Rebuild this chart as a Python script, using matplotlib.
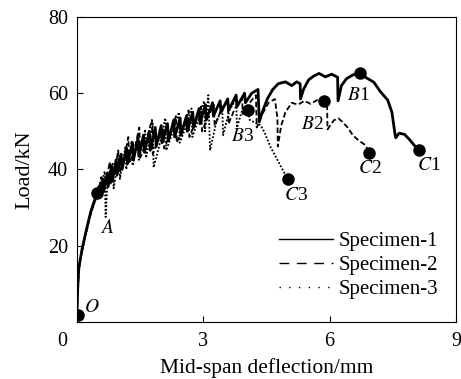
import matplotlib
matplotlib.use("Agg")
import matplotlib.pyplot as plt
from matplotlib.transforms import blended_transform_factory

plt.rcParams['font.family'] = ['Liberation Serif', 'DejaVu Serif']
plt.rcParams['mathtext.fontset'] = 'stix'

# ---- data (deflection in mm, load in kN) ----
s1_x = [0.00, 0.01, 0.04, 0.12, 0.22, 0.33, 0.45, 0.52, 0.56, 0.62, 0.64, 0.72, 0.74,
        0.82, 0.84, 0.93, 0.95, 1.05, 1.07, 1.18, 1.20, 1.32, 1.34, 1.45, 1.47, 1.58,
        1.60, 1.72, 1.74, 1.86, 1.88, 2.00, 2.02, 2.15, 2.17, 2.30, 2.32, 2.45, 2.47,
        2.60, 2.62, 2.75, 2.77, 2.90, 2.92, 3.05, 3.07, 3.22, 3.24, 3.40, 3.42, 3.58,
        3.60, 3.78, 3.80, 3.98, 4.00, 4.15, 4.30, 4.33, 4.40, 4.52, 4.65, 4.78, 4.95,
        5.10, 5.22, 5.30, 5.31, 5.38, 5.50, 5.62, 5.75, 5.90, 6.05, 6.19, 6.20, 6.28,
        6.40, 6.55, 6.71, 6.88, 7.05, 7.20, 7.38, 7.48, 7.55, 7.57, 7.65, 7.78, 7.90,
        8.02, 8.12]
s1_y = [2.0, 7.0, 14.0, 19.0, 24.0, 29.0, 33.0, 35.5, 33.5, 37.5, 34.5, 39.0, 35.5,
        41.0, 37.0, 42.5, 38.5, 44.0, 40.0, 45.5, 41.5, 47.0, 42.5, 48.0, 43.5, 49.0,
        44.5, 50.0, 45.0, 51.0, 46.0, 51.5, 47.0, 52.0, 47.5, 53.0, 48.5, 53.5, 49.0,
        54.0, 50.0, 55.0, 51.0, 56.0, 52.0, 57.0, 53.0, 57.5, 54.0, 58.0, 55.0, 58.5,
        55.5, 59.5, 56.5, 60.0, 57.5, 60.0, 61.0, 52.5, 55.0, 58.5, 61.0, 62.5, 63.0,
        62.0, 63.0, 62.5, 58.5, 61.0, 63.5, 64.5, 65.2, 64.3, 65.0, 64.2, 58.0, 62.0,
        63.8, 64.8, 65.3, 64.0, 62.9, 60.5, 58.2, 55.0, 49.5, 48.3, 49.5, 49.2, 47.8,
        46.2, 45.0]

s2_x = [0.00, 0.02, 0.06, 0.16, 0.28, 0.40, 0.50, 0.58, 0.60, 0.68, 0.78, 0.80, 0.90,
        0.98, 1.00, 1.10, 1.22, 1.24, 1.36, 1.48, 1.50, 1.62, 1.78, 1.80, 1.92, 2.05,
        2.07, 2.20, 2.35, 2.37, 2.50, 2.65, 2.67, 2.80, 2.95, 2.97, 3.10, 3.25, 3.27,
        3.42, 3.58, 3.60, 3.75, 3.92, 3.94, 4.10, 4.25, 4.27, 4.40, 4.55, 4.70, 4.76,
        4.77, 4.85, 4.95, 5.10, 5.25, 5.40, 5.55, 5.70, 5.86, 5.94, 5.95, 6.02, 6.10,
        6.21, 6.31, 6.43, 6.55, 6.69, 6.86, 6.93]
s2_y = [2.0, 9.0, 15.0, 21.0, 26.5, 31.0, 34.0, 38.0, 33.0, 36.5, 42.0, 36.0, 40.0,
        45.0, 39.0, 42.0, 48.5, 41.5, 45.0, 51.0, 43.0, 46.5, 53.0, 44.0, 47.5, 51.0,
        45.5, 49.0, 54.0, 47.0, 50.5, 55.5, 48.5, 52.0, 56.5, 50.0, 53.5, 57.0, 51.5,
        55.5, 58.0, 52.0, 56.0, 58.5, 54.5, 57.5, 59.5, 51.0, 54.5, 57.5, 58.5, 53.5,
        46.0, 51.5, 55.0, 57.5, 57.0, 58.0, 57.2, 58.2, 57.9, 57.0, 50.5, 51.6, 52.9,
        53.4, 52.4, 51.0, 49.0, 47.6, 46.3, 44.2]

s3_x = [0.00, 0.03, 0.08, 0.20, 0.32, 0.44, 0.55, 0.66, 0.68, 0.72, 0.85, 0.87, 1.00,
        1.02, 1.15, 1.17, 1.30, 1.32, 1.45, 1.47, 1.62, 1.64, 1.80, 1.82, 1.95, 2.10,
        2.12, 2.28, 2.42, 2.44, 2.58, 2.72, 2.74, 2.88, 3.02, 3.04, 3.12, 3.16, 3.30,
        3.45, 3.47, 3.62, 3.78, 3.80, 3.95, 4.07, 4.10, 4.19, 4.36, 4.45, 4.60, 4.76,
        4.88, 5.00]
s3_y = [2.0, 11.0, 16.5, 22.5, 28.0, 32.0, 35.0, 39.5, 27.5, 36.0, 41.5, 35.0, 43.5,
        37.5, 46.0, 40.0, 47.5, 41.0, 49.0, 42.5, 50.5, 43.0, 52.0, 40.5, 46.0, 53.5,
        45.0, 50.0, 55.0, 47.0, 51.0, 56.0, 48.5, 53.0, 58.0, 50.0, 59.5, 45.0, 52.0,
        56.5, 49.0, 55.5, 58.5, 51.0, 56.5, 55.5, 53.0, 52.5, 51.6, 49.8, 45.8, 42.5,
        40.0, 37.6]

# characteristic points
pt_x = [0.02, 0.48, 6.71, 5.86, 4.07, 8.12, 6.93, 5.00]
pt_y = [1.8, 33.7, 65.3, 57.9, 55.5, 45.0, 44.2, 37.6]
pt_text = [r'$O$', r'$A$', r'$B$1', r'$B$2', r'$B$3', r'$C$1', r'$C$2', r'$C$3']
pt_offset = [(10, 5), (7, -25), (-1, -16), (-8, -17), (-4, -19), (7, -11), (1, -11), (6, -12)]

x_ticks = [0, 3, 6, 9]
y_ticks = [0, 20, 40, 60, 80]

fig = plt.figure(figsize=(4.61, 3.79), dpi=100)
ax = fig.add_axes([0.167, 0.151, 0.822, 0.804])

ax.plot(s1_x, s1_y, color='black', lw=2.0, ls='-', label='Specimen-1')
ax.plot(s2_x, s2_y, color='black', lw=1.3, ls=(0, (3, 1.5)), label='Specimen-2')
ax.plot(s3_x, s3_y, color='black', lw=1.3, ls=(0, (1, 1)), label='Specimen-3')

ax.plot(pt_x, pt_y, 'o', color='black', ms=8, zorder=5)
for t, x, y, off in zip(pt_text, pt_x, pt_y, pt_offset):
    ax.annotate(t, (x, y), xytext=off, textcoords='offset points',
                ha='center', va='center', fontsize=14)

ax.set_xlim(0, 9)
ax.set_ylim(0, 80)
ax.set_xticks(x_ticks)
ax.set_xticklabels(['', '3', '6', '9'])
ax.set_yticks(y_ticks)
ax.set_yticklabels(['', '20', '40', '60', '80'])
ax.tick_params(direction='in', length=4, width=0.8, labelsize=14.5)
ax.tick_params(axis='x', pad=7.3)
ax.tick_params(axis='y', pad=6.5)
# shared origin label
tr = blended_transform_factory(ax.transAxes, ax.transAxes)
ax.text(-0.040, -0.066, '0', transform=tr, ha='center', va='center', fontsize=14.5)

ax.set_xlabel('Mid-span deflection/mm', fontsize=15.5, labelpad=5.5)
ax.set_ylabel('Load/kN', fontsize=16, labelpad=10)

for s in ax.spines.values():
    s.set_linewidth(0.8)

leg = ax.legend(loc='upper left', bbox_to_anchor=(0.533, 0.297), frameon=False,
                fontsize=15, handlelength=2.6, handletextpad=0.25, labelspacing=0.22,
                borderaxespad=0, borderpad=0)
leg_lines = leg.get_lines()
leg_lines[0].set_linewidth(1.0)
leg_lines[1].set_linewidth(1.0)
leg_lines[1].set_dashes([7, 5.5])
leg_lines[2].set_linewidth(1.0)
leg_lines[2].set_dashes([1, 6])

fig.savefig('out.png', dpi=100)
